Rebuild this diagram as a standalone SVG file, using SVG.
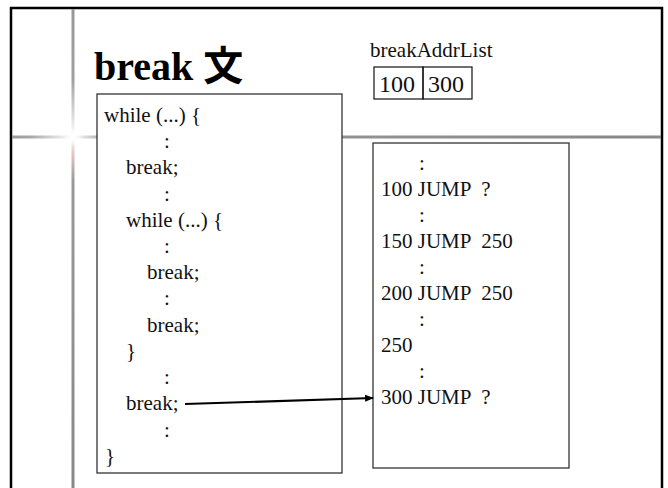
<svg xmlns="http://www.w3.org/2000/svg" width="668" height="488" viewBox="0 0 668 488">
<style>
.t{font-family:"Liberation Serif","Times New Roman","Noto Sans CJK JP",serif;font-size:21px;fill:#111;white-space:pre}
.title{font-family:"Liberation Serif","Noto Sans CJK JP",serif;font-size:40px;font-weight:bold;fill:#000}
.box{fill:#fff;stroke:#333;stroke-width:1.3}
.cell{fill:none;stroke:#111;stroke-width:1.2}
.num{font-family:"Liberation Serif","Times New Roman",serif;font-size:24px;fill:#111}
</style>
<defs>
<linearGradient id="hg" gradientUnits="userSpaceOnUse" x1="11" y1="0" x2="662" y2="0">
<stop offset="0" stop-color="#999"/>
<stop offset="0.03" stop-color="#a8a8a8"/>
<stop offset="0.095" stop-color="#fff"/>
<stop offset="0.15" stop-color="#999"/>
<stop offset="1" stop-color="#888"/>
</linearGradient>
<linearGradient id="vg" gradientUnits="userSpaceOnUse" x1="0" y1="8" x2="0" y2="488">
<stop offset="0" stop-color="#999"/>
<stop offset="0.15" stop-color="#a0a0a0"/>
<stop offset="0.268" stop-color="#fff"/>
<stop offset="0.3" stop-color="#e8c8cc"/>
<stop offset="0.36" stop-color="#999"/>
<stop offset="1" stop-color="#888"/>
</linearGradient>
<radialGradient id="glow" cx="73" cy="137" r="10" gradientUnits="userSpaceOnUse">
<stop offset="0" stop-color="#fff"/>
<stop offset="1" stop-color="#fff" stop-opacity="0"/>
</radialGradient>
<marker id="arr" viewBox="0 0 10 10" refX="9" refY="5" markerWidth="4" markerHeight="4" orient="auto" markerUnits="strokeWidth">
<path d="M0,1 L10,5 L0,9 z" fill="#000"/>
</marker>
</defs>
<rect x="0" y="0" width="668" height="488" fill="#fff"/>
<g id="frame">
<rect x="11" y="8" width="651" height="500" fill="none" stroke="#000" stroke-width="2.5"/>
<rect x="12" y="135.5" width="649" height="3" fill="url(#hg)"/>
<rect x="71.5" y="9" width="3" height="479" fill="url(#vg)"/>
<circle cx="73" cy="137" r="10" fill="url(#glow)"/>
</g>
<g id="title">
<text class="title" x="94" y="80">break 文</text>
</g>
<g id="breakAddrList">
<text class="t" x="370" y="57">breakAddrList</text>
<rect class="cell" x="374" y="67" width="49" height="32"/>
<rect class="cell" x="423" y="67" width="49" height="32"/>
<text class="num" x="379" y="92">100</text>
<text class="num" x="428" y="92">300</text>
</g>
<g id="source">
<rect class="box" x="97" y="94" width="245" height="379"/>
<text class="t" x="104" y="122">while (...) {</text>
<text class="t" x="164" y="148">:</text>
<text class="t" x="126" y="174">break;</text>
<text class="t" x="164" y="201">:</text>
<text class="t" x="126" y="227">while (...) {</text>
<text class="t" x="164" y="253">:</text>
<text class="t" x="147" y="279">break;</text>
<text class="t" x="164" y="305">:</text>
<text class="t" x="147" y="332">break;</text>
<text class="t" x="126" y="358">}</text>
<text class="t" x="164" y="384">:</text>
<text class="t" x="126" y="410">break;</text>
<text class="t" x="164" y="437">:</text>
<text class="t" x="105" y="463">}</text>
</g>
<g id="code">
<rect class="box" x="373" y="143" width="196" height="325"/>
<text class="t" x="419" y="170">:</text>
<text class="t" x="381" y="196" xml:space="preserve">100 JUMP  ?</text>
<text class="t" x="419" y="222">:</text>
<text class="t" x="381" y="248" xml:space="preserve">150 JUMP  250</text>
<text class="t" x="419" y="274">:</text>
<text class="t" x="381" y="300" xml:space="preserve">200 JUMP  250</text>
<text class="t" x="419" y="326">:</text>
<text class="t" x="381" y="352">250</text>
<text class="t" x="419" y="378">:</text>
<text class="t" x="381" y="404" xml:space="preserve">300 JUMP  ?</text>
</g>
<g id="connectors">
<line x1="185" y1="404" x2="373" y2="398" stroke="#000" stroke-width="2.2" marker-end="url(#arr)"/>
</g>
</svg>
